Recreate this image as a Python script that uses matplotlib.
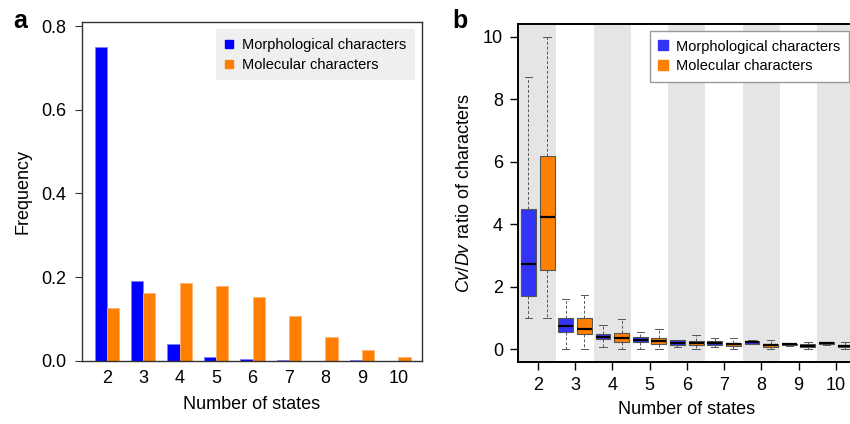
import matplotlib
matplotlib.use("Agg")
import matplotlib.pyplot as plt
from matplotlib.lines import Line2D

plt.rcParams['font.family'] = ['Liberation Sans', 'DejaVu Sans']
plt.rcParams['mathtext.fontset'] = 'custom'
plt.rcParams['mathtext.rm'] = 'Liberation Sans'
plt.rcParams['mathtext.it'] = 'Liberation Sans:italic'

states = [2, 3, 4, 5, 6, 7, 8, 9, 10]
labels = ["Morphological characters", "Molecular characters"]

# panel a: frequencies
morph_freq = [0.751, 0.190, 0.040, 0.010, 0.003, 0.001, 0.0, 0.0005, 0.0]
mol_freq = [0.125, 0.162, 0.185, 0.178, 0.152, 0.107, 0.056, 0.0255, 0.008]

# panel b: box summaries (Cv/Dv ratio)
morph_lo = [1.01, 0.0, 0.064, 0.0, 0.085, 0.085, 0.18, 0.12, 0.15]
morph_q1 = [1.71, 0.564, 0.34, 0.245, 0.14, 0.14, 0.19, 0.13, 0.16]
morph_med = [2.745, 0.745, 0.415, 0.31, 0.20, 0.21, 0.245, 0.16, 0.20]
morph_q3 = [4.50, 1.0, 0.50, 0.40, 0.30, 0.28, 0.28, 0.19, 0.234]
morph_hi = [8.70, 1.62, 0.787, 0.564, 0.31, 0.36, 0.29, 0.20, 0.24]

mol_lo = [1.01, 0.0, 0.0, 0.0, 0.0, 0.0, 0.0, 0.0, 0.02]
mol_q1 = [2.54, 0.5, 0.234, 0.17, 0.13, 0.106, 0.085, 0.085, 0.075]
mol_med = [4.245, 0.67, 0.36, 0.277, 0.21, 0.17, 0.14, 0.117, 0.106]
mol_q3 = [6.18, 1.0, 0.54, 0.37, 0.28, 0.22, 0.19, 0.16, 0.14]
mol_hi = [10.0, 1.73, 0.98, 0.67, 0.47, 0.36, 0.31, 0.255, 0.245]

blue = '#0000FF'
orange = '#FF8000'
box_blue = '#3333F5'
fs = 13

fig = plt.figure(figsize=(8.5, 4.24), dpi=100)

# ---------- panel a ----------
ax1 = fig.add_axes([0.0968, 0.1493, 0.3993, 0.798])
w = 1 / 3
ax1.bar([s - w / 2 for s in states], morph_freq, width=w, color=blue,
        edgecolor='#8080FF', linewidth=0.6)
ax1.bar([s + w / 2 for s in states], mol_freq, width=w, color=orange,
        edgecolor='#FFB070', linewidth=0.6)
ax1.set_xlim(1.33, 10.64)
ax1.set_ylim(0, 0.809)
ax1.set_xticks(states)
ax1.set_yticks([0.0, 0.2, 0.4, 0.6, 0.8])
ax1.set_yticklabels(["0.0", "0.2", "0.4", "0.6", "0.8"])
ax1.tick_params(axis='x', length=0, pad=7, labelsize=fs)
ax1.tick_params(axis='y', length=5.3, width=0.8, pad=6, labelsize=fs, color='#333333')
for sp in ax1.spines.values():
    sp.set_color('#333333')
    sp.set_linewidth(1.0)
ax1.set_xlabel("Number of states", fontsize=fs, labelpad=6)
ax1.set_ylabel("Frequency", fontsize=fs, labelpad=7)
h1 = [Line2D([], [], ls='none', marker='s', ms=6, color=c, mec=c) for c in (blue, orange)]
leg1 = ax1.legend(h1, labels, loc='upper right', bbox_to_anchor=(0.98, 0.98),
                  fontsize=10.5, frameon=True, fancybox=False, handlelength=0.6,
                  handletextpad=0.6, labelspacing=0.4, borderpad=0.6,
                  borderaxespad=0)
leg1.get_frame().set_facecolor('#EFEFEF')
leg1.get_frame().set_edgecolor('none')
leg1.get_frame().set_alpha(1)
fig.text(0.015, 0.934, "a", fontsize=18, fontweight='bold')

# ---------- panel b ----------
ax2 = fig.add_axes([0.609, 0.1462, 0.398, 0.797])
for s in states:
    if s % 2 == 0:
        ax2.axvspan(s - 0.5, s + 0.5, color='#E5E5E5', lw=0, zorder=0)


def stats(lo, q1, med, q3, hi):
    return [dict(whislo=a, q1=b, med=c, q3=d, whishi=e, fliers=[])
            for a, b, c, d, e in zip(lo, q1, med, q3, hi)]


common = dict(widths=0.4, showfliers=False, patch_artist=True, capwidths=0.2,
              whiskerprops=dict(color='#555555', lw=0.7, ls=(0, (3, 2))),
              capprops=dict(color='#555555', lw=0.7),
              medianprops=dict(color='black', lw=1.6), zorder=3)
b1 = ax2.bxp(stats(morph_lo, morph_q1, morph_med, morph_q3, morph_hi),
             positions=[s - 0.25 for s in states], **common)
b2 = ax2.bxp(stats(mol_lo, mol_q1, mol_med, mol_q3, mol_hi),
             positions=[s + 0.25 for s in states], **common)
for p in b1['boxes']:
    p.set_facecolor(box_blue)
    p.set_edgecolor('#555555')
    p.set_linewidth(0.8)
for p in b2['boxes']:
    p.set_facecolor(orange)
    p.set_edgecolor('#555555')
    p.set_linewidth(0.8)

ax2.set_xlim(1.46, 10.54)
ax2.set_ylim(-0.4, 10.4)
ax2.set_xticks(states)
ax2.set_xticklabels([str(s) for s in states])
ax2.set_yticks([0, 2, 4, 6, 8, 10])
ax2.tick_params(axis='both', length=5.6, width=1.0, labelsize=fs)
ax2.tick_params(axis='x', pad=5)
ax2.tick_params(axis='y', pad=5)
for sp in ax2.spines.values():
    sp.set_color('black')
    sp.set_linewidth(1.4)
ax2.set_xlabel("Number of states", fontsize=fs, labelpad=5)
ax2.set_ylabel(r"$\it{Cv/Dv}$ ratio of characters", fontsize=fs, labelpad=7)
h2 = [Line2D([], [], ls='none', marker='s', ms=6.5, color=c, mec=c) for c in (box_blue, orange)]
leg2 = ax2.legend(h2, labels, loc='upper right', bbox_to_anchor=(0.98, 0.98),
                  fontsize=10.5, frameon=True, fancybox=False, handlelength=0.6,
                  handletextpad=0.6, labelspacing=0.4, borderpad=0.6,
                  borderaxespad=0)
leg2.get_frame().set_facecolor('white')
leg2.get_frame().set_edgecolor('#999999')
leg2.get_frame().set_linewidth(1.0)
leg2.get_frame().set_alpha(1)
fig.text(0.532, 0.934, "b", fontsize=18, fontweight='bold')

fig.savefig("out.png", dpi=100)
